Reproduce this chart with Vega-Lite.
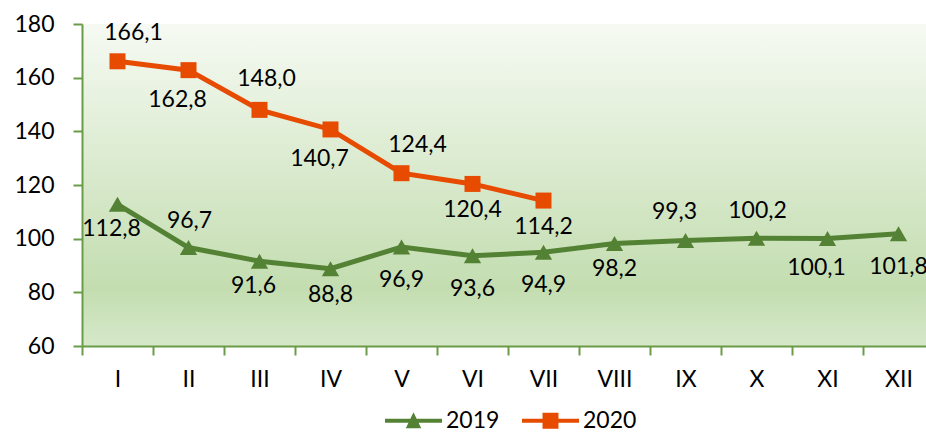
{
  "$schema": "https://vega.github.io/schema/vega-lite/v6.json",
  "autosize": {"type": "none"},
  "padding": {"left": 82, "top": 24, "right": 0, "bottom": 87},
  "width": 852,
  "height": 322,
  "background": "white",
  "config": {
    "view": {"stroke": null, "fill": {"gradient": "linear", "x1": 0, "y1": 0, "x2": 0, "y2": 1, "stops": [{"offset": 0, "color": "#f6faf3"}, {"offset": 0.82, "color": "#c3ddb0"}, {"offset": 1, "color": "#d6e9ca"}]}},
    "font": "Lato",
    "text": {"fontSize": 23, "color": "#000"},
    "locale": {"number": {"decimal": ",", "thousands": " ", "grouping": [3], "currency": ["", ""]}}
  },
  "data": {
    "values": [
      {"month": "I", "series": "2019", "value": 112.8},
      {"month": "II", "series": "2019", "value": 96.7},
      {"month": "III", "series": "2019", "value": 91.6},
      {"month": "IV", "series": "2019", "value": 88.8},
      {"month": "V", "series": "2019", "value": 96.9},
      {"month": "VI", "series": "2019", "value": 93.6},
      {"month": "VII", "series": "2019", "value": 94.9},
      {"month": "VIII", "series": "2019", "value": 98.2},
      {"month": "IX", "series": "2019", "value": 99.3},
      {"month": "X", "series": "2019", "value": 100.2},
      {"month": "XI", "series": "2019", "value": 100.1},
      {"month": "XII", "series": "2019", "value": 101.8},
      {"month": "I", "series": "2020", "value": 166.1},
      {"month": "II", "series": "2020", "value": 162.8},
      {"month": "III", "series": "2020", "value": 148.0},
      {"month": "IV", "series": "2020", "value": 140.7},
      {"month": "V", "series": "2020", "value": 124.4},
      {"month": "VI", "series": "2020", "value": 120.4},
      {"month": "VII", "series": "2020", "value": 114.2}
    ]
  },
  "transform": [{"calculate": "datum.series + '-' + datum.month", "as": "key"}],
  "encoding": {
    "x": {
      "field": "month", "type": "ordinal",
      "sort": ["I","II","III","IV","V","VI","VII","VIII","IX","X","XI","XII"],
      "scale": {"domain": ["I","II","III","IV","V","VI","VII","VIII","IX","X","XI","XII"], "paddingInner": 0, "paddingOuter": 0},
      "axis": {"title": null, "labelAngle": 0, "tickBand": "extent", "tickSize": 9, "tickWidth": 2, "domainWidth": 2, "domainColor": "#6a9c48", "tickColor": "#6a9c48", "labelFontSize": 23, "labelColor": "#000", "labelPadding": 13, "labelFont": "Lato"}
    },
    "y": {
      "field": "value", "type": "quantitative",
      "scale": {"domain": [60, 180], "nice": false, "zero": false},
      "axis": {"title": null, "values": [60,80,100,120,140,160,180], "grid": false, "tickSize": 9, "tickWidth": 2, "domainWidth": 2, "domainColor": "#6a9c48", "tickColor": "#6a9c48", "labelFontSize": 23, "labelColor": "#000", "labelPadding": 19, "labelFont": "Lato"}
    }
  },
  "layer": [
    {
      "mark": {"type": "line", "strokeWidth": 5},
      "encoding": {
        "color": {"field": "series", "type": "nominal", "scale": {"domain": ["2019","2020"], "range": ["#548235","#e64b00"]},
          "legend": {"title": null, "orient": "none", "legendX": 303, "legendY": 368, "direction": "horizontal", "labelFontSize": 23, "labelColor": "#000", "symbolSize": 3249, "labelOffset": 4, "columnPadding": 22,
            "encode": {"symbols": {"update": {"shape": {"signal": "datum.value === '2019' ? 'M-1,-0.07H1V0.07H-1Z M0,-0.3L0.27,0.26H-0.27Z' : 'M-1,-0.07H1V0.07H-1Z M-0.28,-0.28H0.28V0.28H-0.28Z'"}, "strokeWidth": {"value": 0}, "fill": {"signal": "datum.value === '2019' ? '#548235' : '#e64b00'"}, "fillOpacity": {"value": 1}, "opacity": {"value": 1}}}}}}
      }
    },
    {
      "transform": [{"filter": {"field": "series", "equal": "2019"}}],
      "mark": {"type": "point", "filled": true, "opacity": 1, "size": 300, "shape": "triangle-up"},
      "encoding": {"color": {"field": "series", "type": "nominal"}}
    },
    {
      "transform": [{"filter": {"field": "series", "equal": "2020"}}],
      "mark": {"type": "point", "filled": true, "opacity": 1, "size": 256, "shape": "square"},
      "encoding": {"color": {"field": "series", "type": "nominal"}}
    },
    {
      "transform": [{"filter": {"field": "key", "oneOf": ["2020-I", "2020-V"]}}],
      "mark": {"type": "text", "dx": 16, "dy": -28},
      "encoding": {"text": {"field": "value", "type": "quantitative", "format": ".1f"}}
    },
    {
      "transform": [{"filter": {"field": "key", "oneOf": ["2020-III"]}}],
      "mark": {"type": "text", "dx": 7, "dy": -31},
      "encoding": {"text": {"field": "value", "type": "quantitative", "format": ".1f"}}
    },
    {
      "transform": [{"filter": {"field": "key", "oneOf": ["2019-II", "2019-X"]}}],
      "mark": {"type": "text", "dx": 1, "dy": -27},
      "encoding": {"text": {"field": "value", "type": "quantitative", "format": ".1f"}}
    },
    {
      "transform": [{"filter": {"field": "key", "oneOf": ["2019-IX"]}}],
      "mark": {"type": "text", "dx": -11, "dy": -29},
      "encoding": {"text": {"field": "value", "type": "quantitative", "format": ".1f"}}
    },
    {
      "transform": [{"filter": {"field": "key", "oneOf": ["2020-II", "2020-IV", "2019-XI"]}}],
      "mark": {"type": "text", "dx": -11, "dy": 30},
      "encoding": {"text": {"field": "value", "type": "quantitative", "format": ".1f"}}
    },
    {
      "transform": [{"filter": {"field": "key", "oneOf": ["2020-VI", "2020-VII", "2019-IV", "2019-VIII"]}}],
      "mark": {"type": "text", "dx": 0, "dy": 26},
      "encoding": {"text": {"field": "value", "type": "quantitative", "format": ".1f"}}
    },
    {
      "transform": [{"filter": {"field": "key", "oneOf": ["2019-I", "2019-III"]}}],
      "mark": {"type": "text", "dx": -6, "dy": 25},
      "encoding": {"text": {"field": "value", "type": "quantitative", "format": ".1f"}}
    },
    {
      "transform": [{"filter": {"field": "key", "oneOf": ["2019-V", "2019-VI", "2019-VII", "2019-XII"]}}],
      "mark": {"type": "text", "dx": 0, "dy": 33},
      "encoding": {"text": {"field": "value", "type": "quantitative", "format": ".1f"}}
    }
  ]
}
